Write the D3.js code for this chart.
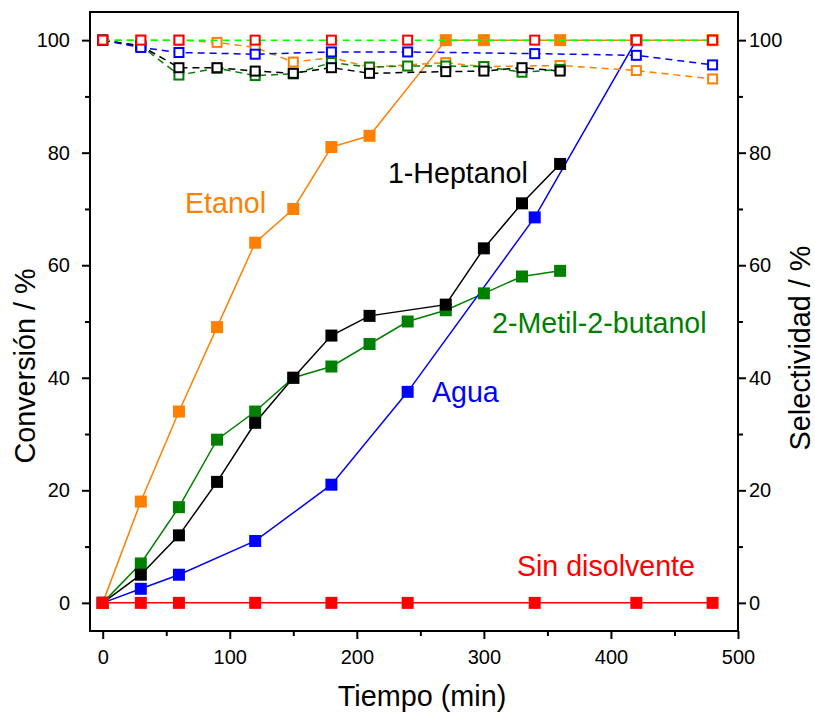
<!DOCTYPE html>
<html>
<head>
<meta charset="utf-8">
<script src="https://cdn.jsdelivr.net/npm/d3@7"></script>
<style>
  html, body { margin: 0; padding: 0; background: #fff; }
  svg { display: block; font-family: "Liberation Sans", Arial, sans-serif; }
</style>
</head>
<body>
<svg id="chart" width="815" height="713"></svg>
<script>
// Reaction time (min) and conversion / selectivity (%) per solvent
const tEtanol = [0, 30, 60, 90, 120, 150, 180, 210, 270, 300, 360, 420, 480];
const convEtanol = [0, 18, 34, 49, 64, 70, 81, 83, 100, 100, 100, 100, 100];
const selEtanol = [100, 100, 100, 99.6, 98.7, 96.1, 96.9, 95.2, 96.0, 95.3, 95.5, 94.6, 93.1];

const tHeptanol = [0, 30, 60, 90, 120, 150, 180, 210, 270, 300, 330, 360];
const convHeptanol = [0, 5, 12, 21.5, 32, 40, 47.5, 51, 53, 63, 71, 78];
const selHeptanol = [100, 99, 95.1, 95.1, 94.5, 94.1, 95.1, 94.1, 94.4, 94.5, 95.1, 94.5];

const tMetilbutanol = [0, 30, 60, 90, 120, 150, 180, 210, 240, 270, 300, 330, 360];
const convMetilbutanol = [0, 7, 17, 29, 34, 40, 42, 46, 50, 52, 55, 58, 59];
const selMetilbutanol = [100, 99, 93.8, 95.0, 93.7, 94.0, 96.0, 95.2, 95.4, 95.4, 95.3, 94.3, 94.8];

const tAgua = [0, 30, 60, 120, 180, 240, 340, 420];
const convAgua = [0, 2.5, 5, 11, 21, 37.5, 68.5, 100];
const tAguaSel = [0, 30, 60, 120, 180, 240, 340, 420, 480];
const selAgua = [100, 98.7, 97.8, 97.5, 97.9, 97.9, 97.6, 97.3, 95.6];

const tSinDisolvente = [0, 30, 60, 120, 180, 240, 340, 420, 480];
const convSinDisolvente = [0, 0, 0, 0, 0, 0, 0, 0, 0];
const selSinDisolvente = [100, 100, 100, 100, 100, 100, 100, 100, 100];

const xTicks = [0, 100, 200, 300, 400, 500];
const yTicks = [0, 20, 40, 60, 80, 100];

const zip = (t, v) => t.map((d, i) => [d, v[i]]);

// Conversion series: filled squares, solid lines
const convSeries = [
  { color: "#008000", pts: zip(tMetilbutanol, convMetilbutanol) },
  { color: "#000000", pts: zip(tHeptanol, convHeptanol) },
  { color: "#0000ff", pts: zip(tAgua, convAgua) },
  { color: "#ff8000", pts: zip(tEtanol, convEtanol) },
  { color: "#ff0000", pts: zip(tSinDisolvente, convSinDisolvente) }
];
// Selectivity series: open squares, dashed lines
const selSeries = [
  { color: "#ff8000", line: "#ff8000", pts: zip(tEtanol, selEtanol) },
  { color: "#008000", line: "#008000", pts: zip(tMetilbutanol, selMetilbutanol) },
  { color: "#000000", line: "#000000", pts: zip(tHeptanol, selHeptanol) },
  { color: "#0000ff", line: "#0000ff", pts: zip(tAguaSel, selAgua) },
  { color: "#ff0000", line: "#00ff00", pts: zip(tSinDisolvente, selSinDisolvente) }
];

const svg = d3.select("#chart");
const L = 90, R = 738, T = 12, B = 631;

const x = d3.scaleLinear().domain([-10, 500]).range([L, R]);
const y = d3.scaleLinear().domain([-5, 105]).range([B, T]);
const y2 = d3.scaleLinear().domain([-5, 105]).range([B, T]);

const line = d3.line().x(d => x(d[0])).y(d => y(d[1]));

// Axes with major and minor ticks (outward)
const tickFont = "20px";
function styleAxis(g) {
  g.select(".domain").remove();
  g.selectAll("line").attr("stroke", "#000").attr("stroke-width", 2);
  g.selectAll("text").attr("fill", "#000").style("font-size", tickFont);
}
const minorX = d3.range(50, 500, 100);
const minorY = d3.range(10, 100, 20);

svg.append("g").attr("transform", `translate(0,${B})`)
  .call(d3.axisBottom(x).tickValues(xTicks).tickSize(8).tickPadding(11).tickFormat(d3.format("d")))
  .call(styleAxis);
svg.append("g").attr("transform", `translate(0,${B})`)
  .call(d3.axisBottom(x).tickValues(minorX).tickSize(5).tickFormat(""))
  .call(styleAxis);
svg.append("g").attr("transform", `translate(${L},0)`)
  .call(d3.axisLeft(y).tickValues(yTicks).tickSize(8).tickPadding(12).tickFormat(d3.format("d")))
  .call(styleAxis);
svg.append("g").attr("transform", `translate(${L},0)`)
  .call(d3.axisLeft(y).tickValues(minorY).tickSize(5).tickFormat(""))
  .call(styleAxis);
svg.append("g").attr("transform", `translate(${R},0)`)
  .call(d3.axisRight(y2).tickValues(yTicks).tickSize(8).tickPadding(3).tickFormat(d3.format("d")))
  .call(styleAxis);
svg.append("g").attr("transform", `translate(${R},0)`)
  .call(d3.axisRight(y2).tickValues(minorY).tickSize(5).tickFormat(""))
  .call(styleAxis);

// Conversion layer
const convG = svg.append("g");
convSeries.forEach(s => {
  convG.append("path").datum(s.pts)
    .attr("fill", "none").attr("stroke", s.color).attr("stroke-width", 1.5)
    .attr("d", line);
});
convSeries.forEach(s => {
  convG.selectAll(null).data(s.pts).enter().append("rect")
    .attr("x", d => x(d[0]) - 6).attr("y", d => y(d[1]) - 6)
    .attr("width", 12).attr("height", 12)
    .attr("fill", s.color);
});

// Selectivity layer
const selG = svg.append("g");
selSeries.forEach(s => {
  selG.append("path").datum(s.pts)
    .attr("fill", "none").attr("stroke", s.line).attr("stroke-width", 1.5)
    .attr("stroke-dasharray", "7,5")
    .attr("d", d3.line().x(d => x(d[0])).y(d => y2(d[1])));
  selG.selectAll(null).data(s.pts).enter().append("rect")
    .attr("x", d => x(d[0]) - 4.5).attr("y", d => y2(d[1]) - 4.5)
    .attr("width", 9).attr("height", 9)
    .attr("fill", "#fff").attr("stroke", s.color).attr("stroke-width", 2);
});

// Plot frame
svg.append("rect").attr("x", L).attr("y", T).attr("width", R - L).attr("height", B - T)
  .attr("fill", "none").attr("stroke", "#000").attr("stroke-width", 2);

// Series labels
const labels = [
  { text: "Etanol", color: "#ff8000", at: [64.8, 69.3] },
  { text: "1-Heptanol", color: "#000000", at: [224.5, 74.6] },
  { text: "2-Metil-2-butanol", color: "#008000", at: [306.4, 48.0] },
  { text: "Agua", color: "#0000ff", at: [259.1, 35.7] },
  { text: "Sin disolvente", color: "#ff0000", at: [326, 4.8] }
];
svg.append("g").selectAll("text").data(labels).enter().append("text")
  .attr("x", d => x(d.at[0])).attr("y", d => y(d.at[1]))
  .attr("fill", d => d.color)
  .style("font-size", "28.6px")
  .text(d => d.text);

// Axis titles
svg.append("text").attr("transform", "translate(422,706) scale(0.96,1)").attr("text-anchor", "middle")
  .style("font-size", "30px").text("Tiempo (min)");
svg.append("text").attr("transform", "translate(35,366) rotate(-90) scale(0.96,1)").attr("text-anchor", "middle")
  .style("font-size", "30px").text("Conversión / %");
svg.append("text").attr("transform", "translate(810,348) rotate(-90) scale(0.96,1)").attr("text-anchor", "middle")
  .style("font-size", "30px").text("Selectividad / %");
</script>
</body>
</html>
